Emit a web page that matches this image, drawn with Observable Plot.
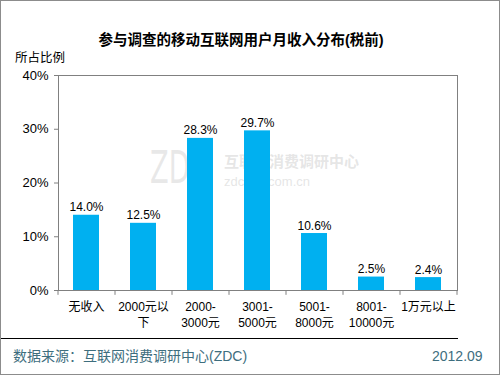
<!DOCTYPE html>
<html><head><meta charset="utf-8">
<script src="https://cdn.jsdelivr.net/npm/d3@7"></script>
<script src="https://cdn.jsdelivr.net/npm/@observablehq/plot@0.6"></script>
<style>
body{margin:0;background:#fff;}
#wrap{position:relative;width:500px;height:375px;overflow:hidden;font-family:"Liberation Sans","Noto Sans CJK SC",sans-serif;}
#wrap svg{position:absolute;left:0;top:0;}
.abs{position:absolute;white-space:nowrap;line-height:1;}
</style></head><body>
<div id="wrap"></div>
<script>
const categories = ["无收入","2000元以下","2000-3000元","3001-5000元","5001-8000元","8001-10000元","1万元以上"];
const tickLabels = ["无收入","2000元以\n下","2000-\n3000元","3001-\n5000元","5001-\n8000元","8001-\n10000元","1万元以上"];
const values = [14.0, 12.5, 28.3, 29.7, 10.6, 2.5, 2.4];
const yTicks = [0, 10, 20, 30, 40];
const title = "参与调查的移动互联网用户月收入分布(税前)";
const yLabel = "所占比例";
const source = "数据来源：互联网消费调研中心(ZDC)";
const dateLabel = "2012.09";

const data = categories.map((c, i) => ({cat: c, label: tickLabels[i], v: values[i]}));
const labelOf = new Map(data.map(d => [d.cat, d.label]));
const step = (457 - 58) / categories.length;

const wrap = document.getElementById("wrap");
function addText(txt, css) {
  const d = document.createElement("div");
  d.className = "abs";
  d.textContent = txt;
  d.style.cssText += css;
  wrap.appendChild(d);
  return d;
}

const chart = Plot.plot({
  width: 500, height: 375,
  marginLeft: 58, marginRight: 43, marginTop: 75, marginBottom: 85,
  style: {fontFamily: '"Liberation Sans","Noto Sans CJK SC",sans-serif', fontSize: "12px", color: "#000", background: "transparent"},
  x: {domain: categories, paddingInner: 0.54, paddingOuter: 0.27, axis: null, label: null},
  y: {domain: [0, 40], axis: null, label: null},
  marks: [
    Plot.frame({stroke: "#808080"}),
    Plot.barY(data, {x: "cat", y: "v", fill: "#00B0F0"}),
    Plot.text(data, {x: "cat", y: "v", text: d => d.v.toFixed(1) + "%", dy: -4, lineAnchor: "bottom", fontSize: 12, fill: "#000"}),
    Plot.ruleX(data, {x: "cat", dx: -step / 2, y1: 0, y2: -0.9, stroke: "#808080"}),
    Plot.ruleX(data.slice(-1), {x: "cat", dx: step / 2, y1: 0, y2: -0.9, stroke: "#808080"}),
    Plot.axisX({ticks: categories, tickSize: 0, tickPadding: 9, tickFormat: c => labelOf.get(c), fontSize: 12, lineHeight: 1.35, label: null}),
    Plot.axisY({ticks: yTicks, tickSize: 4, tickPadding: 6, tickFormat: d => d + "%", fontSize: 13, stroke: "#808080", label: null})
  ]
});
// faint watermark behind the chart
addText("ZDC", "left:150px;top:146px;font-size:44px;color:rgba(190,190,190,0.35);font-family:'DejaVu Sans';transform:scaleX(0.62);transform-origin:0 0;");
addText("互联网消费调研中心", "left:224px;top:154px;font-size:15px;color:rgba(190,190,190,0.4);font-weight:bold;");
addText("zdc.zol.com.cn", "left:224px;top:175px;font-size:13px;color:rgba(190,190,190,0.4);");
wrap.appendChild(chart);

addText(title, "left:0;width:482px;text-align:center;top:33px;font-size:14.5px;font-weight:bold;color:#000;");
addText(yLabel, "left:15px;top:52px;font-size:12.5px;color:#000;");
addText(source, "left:13px;top:349px;font-size:14px;color:#3e6e7e;");
addText(dateLabel, "left:432px;top:349px;font-size:14px;color:#3e6e7e;");
const line = document.createElement("div");
line.style.cssText = "position:absolute;left:0;top:338px;width:458px;height:0;border-top:1px solid #000;";
wrap.appendChild(line);
const border = document.createElement("div");
border.style.cssText = "position:absolute;left:0;top:0;width:500px;height:375px;box-sizing:border-box;border:1px solid #8c8c8c;pointer-events:none;";
wrap.appendChild(border);
</script>
</body></html>
